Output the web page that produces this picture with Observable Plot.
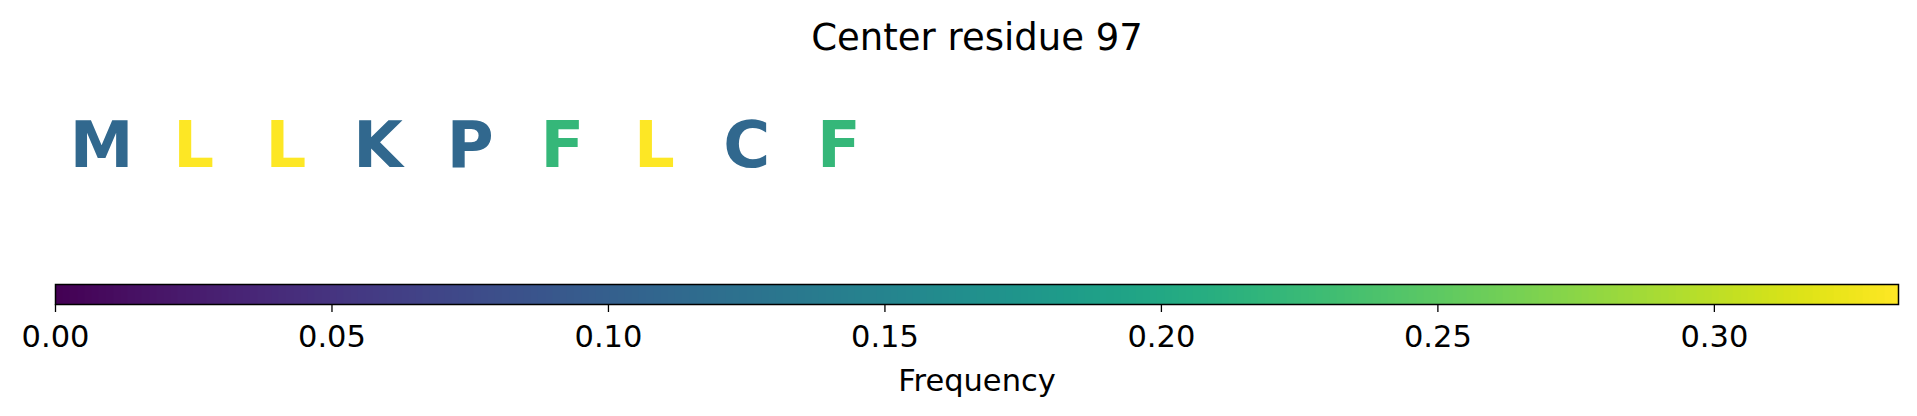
<!DOCTYPE html>
<html>
<head>
<meta charset="utf-8">
<script src="https://cdn.jsdelivr.net/npm/d3@7"></script>
<script src="https://cdn.jsdelivr.net/npm/@observablehq/plot@0.6"></script>
<style>
  html, body { margin: 0; padding: 0; background: #fff; }
  #chart { position: relative; width: 1917px; height: 416px; }
  #chart svg { position: absolute; left: 0; top: 0; }
</style>
</head>
<body>
<div id="chart"></div>
<script>
// ---- data ----
const title = "Center residue 97";
const residues = ["M", "L", "L", "K", "P", "F", "L", "C", "F"];
const positions = [0, 1, 2, 3, 4, 5, 6, 7, 8];
const frequencies = [0.1111, 0.3333, 0.3333, 0.1111, 0.1111, 0.2222, 0.3333, 0.1111, 0.2222];
const windowSize = 20;
const colorMax = 0.3333;
const tickValues = [0, 0.05, 0.10, 0.15, 0.20, 0.25, 0.30];
const colorLabel = "Frequency";

const letters = residues.map((r, i) => ({residue: r, pos: positions[i], freq: frequencies[i]}));

const W = 1917, H = 416;
const colorOpts = {type: "linear", scheme: "viridis", domain: [0, colorMax]};
const baseStyle = {fontFamily: "DejaVu Sans", background: "transparent", overflow: "visible"};

// ---- letters + title ----
const lettersPlot = Plot.plot({
  width: W, height: H,
  marginLeft: 55, marginRight: 19, marginTop: 0, marginBottom: 0,
  x: {domain: [0, windowSize], axis: null},
  y: {domain: [0, 1], axis: null},
  color: colorOpts,
  style: {...baseStyle, background: "white"},
  marks: [
    Plot.text([title], {frameAnchor: "top", dy: 38, fontSize: 37, fill: "black", lineAnchor: "middle"}),
    Plot.text(letters, {
      x: d => d.pos + 0.5, frameAnchor: "top", dy: 146,
      text: "residue", fill: "freq", fontSize: 64, fontWeight: "bold", lineAnchor: "middle"
    })
  ]
});

// ---- colorbar ----
const barPlot = Plot.plot({
  width: W, height: H,
  marginLeft: 55, marginRight: 19, marginTop: 284, marginBottom: 112,
  x: {domain: [0, colorMax], axis: null},
  y: {domain: [0, 1], axis: null},
  color: colorOpts,
  style: baseStyle,
  marks: [
    Plot.raster({x1: 0, x2: colorMax, y1: 0, y2: 1, fill: (x, y) => x, pixelSize: 1}),
    Plot.frame({stroke: "black", strokeWidth: 1.5}),
    Plot.axisX({ticks: tickValues, tickFormat: d3.format(".2f"), tickSize: 8, tickPadding: 13,
      fontSize: 30.5, label: null, stroke: "black", strokeWidth: 1.3, fill: "black"}),
    Plot.text([colorLabel], {frameAnchor: "bottom", dy: 77, fontSize: 30.5, fill: "black", lineAnchor: "middle"})
  ]
});

const el = document.getElementById("chart");
el.appendChild(lettersPlot);
el.appendChild(barPlot);
</script>
</body>
</html>
